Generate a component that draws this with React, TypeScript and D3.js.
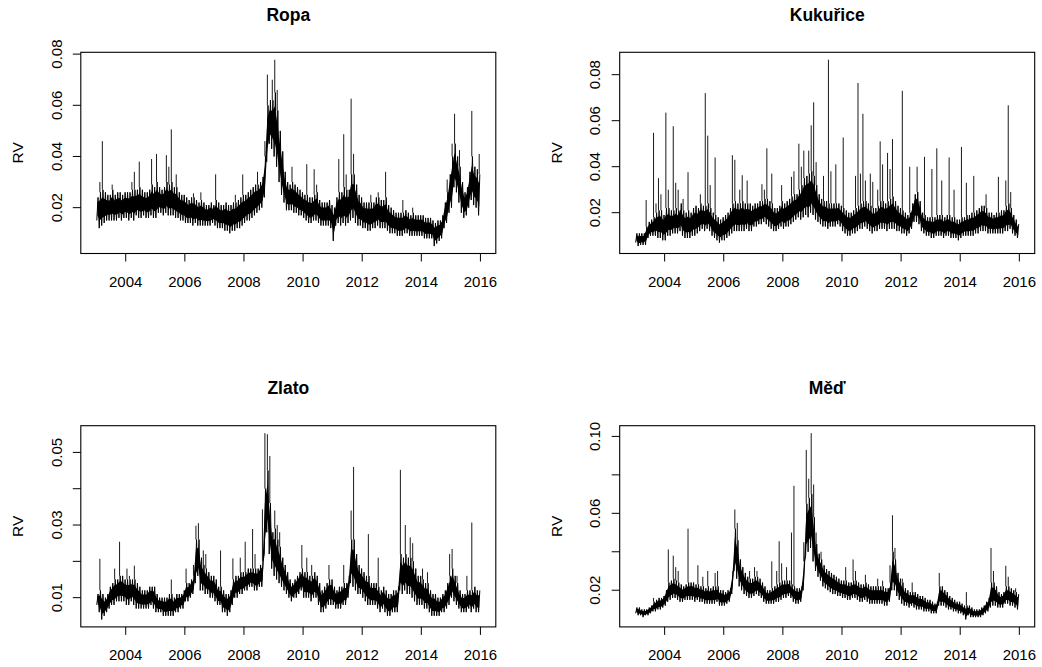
import React from "react";
import * as d3 from "d3";

// Realised volatility (RV), monthly from Jan 2003 to Dec 2015.
// low / high: lower and upper edge of the daily band in each month.
// spikes: isolated daily peaks above the band, as [month index, value].
const startYear = 2003;
const yearTicks = [2004, 2006, 2008, 2010, 2012, 2014, 2016];

const ropaLow = [
  0.015, 0.012, 0.013, 0.014, 0.015, 0.015, 0.015, 0.015, 0.015, 0.016, 0.015, 0.016,
  0.016, 0.015, 0.016, 0.015, 0.017, 0.016, 0.016, 0.017, 0.016, 0.016, 0.017, 0.016,
  0.016, 0.018, 0.018, 0.017, 0.018, 0.017, 0.017, 0.017, 0.016, 0.016, 0.015, 0.015,
  0.014, 0.014, 0.014, 0.013, 0.014, 0.013, 0.013, 0.013, 0.013, 0.013, 0.013, 0.014,
  0.013, 0.012, 0.012, 0.012, 0.011, 0.011, 0.010, 0.011, 0.011, 0.012, 0.012, 0.013,
  0.014, 0.015, 0.015, 0.016, 0.017, 0.018, 0.019, 0.020, 0.024, 0.038, 0.045, 0.043,
  0.040, 0.036, 0.030, 0.025, 0.022, 0.019, 0.019, 0.019, 0.018, 0.018, 0.017, 0.017,
  0.016, 0.015, 0.014, 0.014, 0.015, 0.015, 0.014, 0.013, 0.013, 0.013, 0.013, 0.012,
  0.007, 0.013, 0.014, 0.013, 0.014, 0.013, 0.014, 0.015, 0.016, 0.014, 0.013, 0.013,
  0.012, 0.012, 0.011, 0.011, 0.012, 0.012, 0.013, 0.012, 0.012, 0.012, 0.011, 0.010,
  0.010, 0.010, 0.009, 0.009, 0.009, 0.010, 0.010, 0.009, 0.009, 0.009, 0.009, 0.009,
  0.009, 0.008, 0.008, 0.008, 0.008, 0.005, 0.006, 0.007, 0.008, 0.012, 0.014, 0.018,
  0.020, 0.028, 0.026, 0.022, 0.018, 0.016, 0.017, 0.020, 0.023, 0.021, 0.020, 0.017,
];
const ropaHigh = [
  0.024, 0.026, 0.027, 0.026, 0.025, 0.025, 0.027, 0.025, 0.026, 0.026, 0.025, 0.026,
  0.026, 0.026, 0.027, 0.027, 0.027, 0.028, 0.027, 0.026, 0.026, 0.027, 0.029, 0.028,
  0.030, 0.028, 0.027, 0.028, 0.030, 0.029, 0.030, 0.028, 0.028, 0.026, 0.025, 0.025,
  0.024, 0.023, 0.024, 0.024, 0.023, 0.022, 0.023, 0.022, 0.021, 0.021, 0.022, 0.021,
  0.023, 0.022, 0.021, 0.021, 0.022, 0.021, 0.021, 0.022, 0.022, 0.023, 0.024, 0.025,
  0.025, 0.026, 0.027, 0.028, 0.029, 0.029, 0.030, 0.032, 0.040, 0.060, 0.062, 0.062,
  0.065, 0.058, 0.050, 0.042, 0.034, 0.030, 0.029, 0.030, 0.029, 0.028, 0.027, 0.026,
  0.025, 0.025, 0.024, 0.024, 0.025, 0.026, 0.023, 0.022, 0.022, 0.022, 0.023, 0.021,
  0.020, 0.024, 0.026, 0.026, 0.028, 0.027, 0.027, 0.033, 0.033, 0.029, 0.025, 0.024,
  0.022, 0.022, 0.022, 0.022, 0.022, 0.024, 0.024, 0.023, 0.023, 0.024, 0.021, 0.020,
  0.019, 0.018, 0.018, 0.018, 0.018, 0.019, 0.018, 0.017, 0.018, 0.017, 0.017, 0.017,
  0.017, 0.016, 0.016, 0.016, 0.015, 0.014, 0.015, 0.015, 0.017, 0.022, 0.026, 0.033,
  0.040, 0.045, 0.040, 0.036, 0.030, 0.026, 0.028, 0.034, 0.040, 0.036, 0.035, 0.033,
];
const ropaSpikes: [number, number][] = [
  [1, 0.03], [2, 0.046], [6, 0.029], [14, 0.03], [15, 0.034], [17, 0.038], [22, 0.039],
  [24, 0.041], [28, 0.0405], [29, 0.036], [30, 0.0506], [32, 0.033], [39, 0.0256], [42, 0.026],
  [48, 0.033], [56, 0.025], [59, 0.033], [65, 0.034], [68, 0.046], [69, 0.072], [71, 0.07],
  [72, 0.0778], [73, 0.066], [79, 0.036], [85, 0.037], [88, 0.035], [89, 0.029],
  [98, 0.039], [100, 0.0487], [101, 0.033], [103, 0.0626], [104, 0.041],
  [111, 0.025], [114, 0.026], [117, 0.034], [124, 0.023], [128, 0.02], [142, 0.031],
  [144, 0.045], [145, 0.0567], [147, 0.0425], [152, 0.0578], [155, 0.041],
];

const kukuriceLow = [
  0.007, 0.0055, 0.006, 0.006, 0.006, 0.009, 0.010, 0.010, 0.010, 0.009, 0.009, 0.008,
  0.008, 0.010, 0.010, 0.011, 0.011, 0.011, 0.012, 0.010, 0.009, 0.009, 0.009, 0.010,
  0.010, 0.011, 0.012, 0.013, 0.012, 0.013, 0.012, 0.010, 0.009, 0.008, 0.007, 0.008,
  0.008, 0.009, 0.010, 0.011, 0.012, 0.012, 0.012, 0.012, 0.012, 0.013, 0.012, 0.012,
  0.014, 0.014, 0.015, 0.015, 0.016, 0.015, 0.014, 0.013, 0.012, 0.012, 0.013, 0.014,
  0.013, 0.014, 0.014, 0.015, 0.016, 0.017, 0.018, 0.017, 0.018, 0.019, 0.018, 0.020,
  0.019, 0.017, 0.016, 0.015, 0.014, 0.014, 0.013, 0.014, 0.014, 0.014, 0.015, 0.014,
  0.012, 0.011, 0.010, 0.010, 0.011, 0.011, 0.012, 0.013, 0.013, 0.014, 0.013, 0.012,
  0.011, 0.012, 0.012, 0.013, 0.013, 0.013, 0.012, 0.013, 0.013, 0.013, 0.012, 0.012,
  0.011, 0.011, 0.010, 0.011, 0.013, 0.016, 0.016, 0.015, 0.012, 0.011, 0.010, 0.010,
  0.009, 0.009, 0.010, 0.010, 0.010, 0.009, 0.010, 0.010, 0.009, 0.009, 0.009, 0.008,
  0.009, 0.010, 0.010, 0.010, 0.010, 0.010, 0.011, 0.011, 0.012, 0.012, 0.012, 0.011,
  0.011, 0.011, 0.011, 0.011, 0.011, 0.011, 0.012, 0.012, 0.013, 0.011, 0.010, 0.009,
];
const kukuriceHigh = [
  0.011, 0.011, 0.011, 0.011, 0.014, 0.016, 0.017, 0.018, 0.020, 0.021, 0.021, 0.019,
  0.022, 0.022, 0.021, 0.021, 0.022, 0.021, 0.024, 0.021, 0.020, 0.021, 0.020, 0.022,
  0.023, 0.022, 0.024, 0.023, 0.023, 0.024, 0.022, 0.020, 0.019, 0.018, 0.017, 0.018,
  0.019, 0.020, 0.022, 0.024, 0.025, 0.024, 0.024, 0.025, 0.024, 0.024, 0.024, 0.023,
  0.024, 0.024, 0.025, 0.025, 0.026, 0.026, 0.025, 0.024, 0.022, 0.022, 0.023, 0.025,
  0.024, 0.025, 0.026, 0.027, 0.028, 0.028, 0.030, 0.032, 0.035, 0.036, 0.037, 0.038,
  0.036, 0.032, 0.028, 0.026, 0.025, 0.025, 0.024, 0.024, 0.024, 0.024, 0.024, 0.023,
  0.022, 0.021, 0.020, 0.020, 0.021, 0.022, 0.023, 0.024, 0.025, 0.025, 0.024, 0.023,
  0.022, 0.022, 0.023, 0.025, 0.025, 0.024, 0.025, 0.026, 0.027, 0.025, 0.023, 0.022,
  0.021, 0.020, 0.019, 0.020, 0.024, 0.028, 0.029, 0.025, 0.020, 0.019, 0.018, 0.018,
  0.018, 0.018, 0.019, 0.019, 0.019, 0.018, 0.019, 0.019, 0.018, 0.018, 0.017, 0.017,
  0.018, 0.018, 0.019, 0.019, 0.020, 0.020, 0.021, 0.022, 0.023, 0.023, 0.022, 0.020,
  0.020, 0.019, 0.020, 0.020, 0.021, 0.021, 0.023, 0.024, 0.022, 0.019, 0.017, 0.015,
];
const kukuriceSpikes: [number, number][] = [
  [4, 0.0255], [7, 0.0547], [8, 0.024], [9, 0.035], [10, 0.028],
  [12, 0.0635], [13, 0.03], [15, 0.0576], [16, 0.033], [17, 0.03], [19, 0.026], [21, 0.0376],
  [26, 0.028], [28, 0.072], [29, 0.0535], [30, 0.032], [32, 0.044],
  [39, 0.045], [40, 0.043], [42, 0.03], [43, 0.0363], [45, 0.034],
  [51, 0.0324], [52, 0.03], [53, 0.048], [55, 0.037], [59, 0.032],
  [63, 0.0356], [64, 0.038], [66, 0.05], [67, 0.04], [68, 0.047], [70, 0.047], [71, 0.058],
  [72, 0.068], [73, 0.042], [76, 0.036], [78, 0.0865], [79, 0.038], [81, 0.041],
  [84, 0.0527], [89, 0.036], [90, 0.0764], [91, 0.037], [92, 0.063], [93, 0.034], [95, 0.037],
  [96, 0.0334], [98, 0.03], [99, 0.051], [100, 0.041], [102, 0.046], [103, 0.039], [104, 0.052],
  [108, 0.073], [111, 0.04], [114, 0.04], [117, 0.0443],
  [120, 0.039], [122, 0.048], [124, 0.034], [127, 0.044], [129, 0.03],
  [132, 0.0486], [134, 0.033], [137, 0.036], [142, 0.028],
  [147, 0.0356], [150, 0.034], [151, 0.0667], [152, 0.029],
];

const zlatoLow = [
  0.008, 0.006, 0.004, 0.005, 0.006, 0.007, 0.008, 0.008, 0.009, 0.009, 0.009, 0.009,
  0.008, 0.008, 0.009, 0.008, 0.007, 0.007, 0.007, 0.007, 0.007, 0.007, 0.008, 0.007,
  0.006, 0.006, 0.006, 0.005, 0.005, 0.005, 0.005, 0.005, 0.006, 0.006, 0.007, 0.007,
  0.009, 0.009, 0.010, 0.011, 0.014, 0.016, 0.012, 0.012, 0.011, 0.011, 0.010, 0.010,
  0.009, 0.008, 0.008, 0.006, 0.006, 0.005, 0.006, 0.008, 0.010, 0.010, 0.011, 0.011,
  0.012, 0.012, 0.013, 0.013, 0.012, 0.012, 0.013, 0.013, 0.022, 0.028, 0.022, 0.018,
  0.016, 0.015, 0.014, 0.013, 0.012, 0.011, 0.010, 0.009, 0.010, 0.010, 0.011, 0.012,
  0.010, 0.010, 0.010, 0.009, 0.010, 0.010, 0.008, 0.006, 0.006, 0.007, 0.008, 0.008,
  0.008, 0.007, 0.007, 0.007, 0.008, 0.008, 0.010, 0.014, 0.013, 0.012, 0.011, 0.011,
  0.010, 0.009, 0.008, 0.008, 0.008, 0.008, 0.007, 0.006, 0.007, 0.006, 0.005, 0.005,
  0.006, 0.006, 0.006, 0.012, 0.011, 0.012, 0.011, 0.011, 0.010, 0.009, 0.008, 0.008,
  0.008, 0.007, 0.007, 0.006, 0.005, 0.005, 0.005, 0.005, 0.006, 0.006, 0.007, 0.008,
  0.010, 0.009, 0.008, 0.007, 0.006, 0.006, 0.006, 0.007, 0.006, 0.007, 0.006, 0.006,
];
const zlatoHigh = [
  0.011, 0.012, 0.011, 0.010, 0.011, 0.013, 0.014, 0.015, 0.015, 0.016, 0.016, 0.015,
  0.015, 0.015, 0.015, 0.015, 0.014, 0.013, 0.012, 0.012, 0.012, 0.013, 0.013, 0.013,
  0.011, 0.010, 0.010, 0.010, 0.010, 0.011, 0.011, 0.010, 0.011, 0.011, 0.011, 0.012,
  0.014, 0.014, 0.015, 0.016, 0.026, 0.026, 0.021, 0.019, 0.018, 0.017, 0.016, 0.016,
  0.015, 0.013, 0.013, 0.012, 0.011, 0.011, 0.012, 0.015, 0.016, 0.016, 0.017, 0.017,
  0.017, 0.018, 0.018, 0.018, 0.018, 0.018, 0.019, 0.020, 0.040, 0.045, 0.036, 0.028,
  0.029, 0.026, 0.024, 0.021, 0.019, 0.017, 0.015, 0.014, 0.015, 0.016, 0.017, 0.018,
  0.017, 0.017, 0.016, 0.016, 0.017, 0.016, 0.014, 0.012, 0.013, 0.014, 0.015, 0.015,
  0.013, 0.012, 0.013, 0.013, 0.014, 0.014, 0.016, 0.026, 0.026, 0.022, 0.019, 0.018,
  0.017, 0.016, 0.016, 0.014, 0.014, 0.014, 0.013, 0.012, 0.013, 0.012, 0.011, 0.011,
  0.012, 0.012, 0.013, 0.022, 0.021, 0.022, 0.021, 0.021, 0.020, 0.018, 0.016, 0.016,
  0.015, 0.014, 0.014, 0.012, 0.011, 0.011, 0.010, 0.010, 0.011, 0.012, 0.014, 0.016,
  0.018, 0.016, 0.014, 0.012, 0.011, 0.011, 0.012, 0.012, 0.012, 0.013, 0.012, 0.012,
];
const zlatoSpikes: [number, number][] = [
  [1, 0.0207], [7, 0.018], [9, 0.0254], [12, 0.018], [13, 0.016], [15, 0.0188], [30, 0.015],
  [36, 0.018], [39, 0.019], [40, 0.0298], [41, 0.0305], [43, 0.023], [44, 0.022],
  [50, 0.023], [55, 0.0208], [58, 0.021],
  [60, 0.0254], [63, 0.0289], [64, 0.022], [67, 0.0343], [68, 0.0553], [69, 0.055], [70, 0.049],
  [72, 0.034], [73, 0.03], [74, 0.028], [83, 0.0245], [85, 0.021], [87, 0.019], [94, 0.019],
  [100, 0.019], [103, 0.034], [104, 0.046], [110, 0.0275], [114, 0.021],
  [123, 0.0452], [125, 0.03], [127, 0.0266], [128, 0.025],
  [132, 0.018], [134, 0.017], [143, 0.022], [144, 0.0234], [146, 0.016], [150, 0.016], [152, 0.0307],
];

const medLow = [
  0.008, 0.007, 0.007, 0.006, 0.007, 0.007, 0.008, 0.009, 0.009, 0.010, 0.010, 0.011,
  0.012, 0.014, 0.015, 0.016, 0.016, 0.015, 0.014, 0.014, 0.015, 0.015, 0.015, 0.015,
  0.014, 0.015, 0.014, 0.014, 0.013, 0.013, 0.013, 0.013, 0.013, 0.014, 0.012, 0.012,
  0.012, 0.013, 0.014, 0.018, 0.030, 0.026, 0.022, 0.020, 0.018, 0.017, 0.016, 0.016,
  0.017, 0.018, 0.017, 0.016, 0.014, 0.013, 0.013, 0.013, 0.013, 0.014, 0.014, 0.015,
  0.016, 0.016, 0.017, 0.016, 0.014, 0.013, 0.013, 0.014, 0.020, 0.038, 0.040, 0.042,
  0.035, 0.030, 0.027, 0.025, 0.022, 0.021, 0.020, 0.019, 0.018, 0.018, 0.017, 0.017,
  0.016, 0.016, 0.015, 0.015, 0.016, 0.016, 0.015, 0.014, 0.014, 0.015, 0.014, 0.013,
  0.013, 0.013, 0.013, 0.013, 0.013, 0.012, 0.012, 0.014, 0.020, 0.020, 0.017, 0.015,
  0.013, 0.012, 0.012, 0.011, 0.012, 0.011, 0.010, 0.010, 0.010, 0.009, 0.009, 0.009,
  0.008, 0.008, 0.008, 0.012, 0.012, 0.012, 0.011, 0.010, 0.010, 0.009, 0.009, 0.008,
  0.008, 0.007, 0.0048, 0.007, 0.006, 0.006, 0.006, 0.006, 0.006, 0.007, 0.008, 0.009,
  0.011, 0.012, 0.012, 0.011, 0.011, 0.011, 0.013, 0.013, 0.012, 0.012, 0.011, 0.010,
];
const medHigh = [
  0.011, 0.011, 0.010, 0.010, 0.010, 0.011, 0.012, 0.014, 0.015, 0.016, 0.016, 0.017,
  0.020, 0.024, 0.025, 0.026, 0.025, 0.024, 0.023, 0.022, 0.023, 0.024, 0.024, 0.024,
  0.023, 0.023, 0.022, 0.022, 0.021, 0.022, 0.021, 0.022, 0.022, 0.022, 0.020, 0.020,
  0.019, 0.020, 0.021, 0.030, 0.052, 0.046, 0.036, 0.032, 0.029, 0.027, 0.026, 0.026,
  0.027, 0.027, 0.026, 0.024, 0.022, 0.020, 0.020, 0.021, 0.022, 0.023, 0.024, 0.025,
  0.025, 0.025, 0.025, 0.023, 0.022, 0.021, 0.021, 0.022, 0.035, 0.065, 0.068, 0.070,
  0.058, 0.044, 0.039, 0.036, 0.033, 0.031, 0.030, 0.029, 0.028, 0.027, 0.026, 0.025,
  0.025, 0.025, 0.024, 0.024, 0.025, 0.025, 0.024, 0.023, 0.023, 0.024, 0.023, 0.022,
  0.022, 0.022, 0.022, 0.022, 0.022, 0.021, 0.021, 0.024, 0.040, 0.036, 0.029, 0.026,
  0.024, 0.021, 0.020, 0.019, 0.019, 0.019, 0.018, 0.017, 0.017, 0.016, 0.015, 0.015,
  0.014, 0.013, 0.014, 0.022, 0.022, 0.020, 0.019, 0.017, 0.016, 0.015, 0.014, 0.014,
  0.013, 0.012, 0.012, 0.012, 0.011, 0.010, 0.010, 0.010, 0.011, 0.012, 0.014, 0.016,
  0.024, 0.024, 0.022, 0.019, 0.018, 0.019, 0.022, 0.022, 0.021, 0.020, 0.019, 0.018,
];
const medSpikes: [number, number][] = [
  [7, 0.016], [13, 0.0412], [15, 0.038], [16, 0.032], [17, 0.03], [21, 0.052],
  [25, 0.033], [27, 0.027], [29, 0.03], [32, 0.029], [33, 0.03],
  [40, 0.062], [41, 0.055], [46, 0.03],
  [48, 0.032], [49, 0.03], [55, 0.035], [57, 0.03], [58, 0.0455], [59, 0.034],
  [61, 0.032], [63, 0.05], [64, 0.0743], [68, 0.045], [69, 0.093], [70, 0.078], [71, 0.1017],
  [72, 0.075], [73, 0.05], [75, 0.04], [85, 0.032], [88, 0.036], [89, 0.03], [93, 0.028],
  [98, 0.026], [100, 0.025], [103, 0.033], [104, 0.059], [105, 0.042],
  [108, 0.026], [112, 0.024], [123, 0.029], [134, 0.019],
  [144, 0.042], [145, 0.03], [150, 0.0327], [151, 0.027], [154, 0.021],
];

type Panel = {
  title: string;
  low: number[];
  high: number[];
  spikes: [number, number][];
  yTicks: number[];
  yLabels: number[];
  col: number;
  row: number;
};

const panels: Panel[] = [
  { title: "Ropa", low: ropaLow, high: ropaHigh, spikes: ropaSpikes, yTicks: [0.02, 0.04, 0.06, 0.08], yLabels: [0.02, 0.04, 0.06, 0.08], col: 0, row: 0 },
  { title: "Kukuřice", low: kukuriceLow, high: kukuriceHigh, spikes: kukuriceSpikes, yTicks: [0.02, 0.04, 0.06, 0.08], yLabels: [0.02, 0.04, 0.06, 0.08], col: 1, row: 0 },
  { title: "Zlato", low: zlatoLow, high: zlatoHigh, spikes: zlatoSpikes, yTicks: [0.01, 0.02, 0.03, 0.04, 0.05], yLabels: [0.01, 0.03, 0.05], col: 0, row: 1 },
  { title: "Měď", low: medLow, high: medHigh, spikes: medSpikes, yTicks: [0.02, 0.04, 0.06, 0.08, 0.1], yLabels: [0.02, 0.06, 0.1], col: 1, row: 1 },
];

const W = 1042;
const H = 667;
const colX = [80.8, 619.7];
const boxW = 415;
const rowY = [52.3, 425.7];
const boxH = 201.2;
const font = "'Liberation Sans', Arial, Helvetica, sans-serif";
const fmt = d3.format(".2f");

function PanelPlot({ p }: { p: Panel }) {
  const x0 = colX[p.col];
  const y0 = rowY[p.row];
  const n = p.low.length;

  // R-style axis extent: data range widened by 4% on each side
  const tStart = startYear;
  const tEnd = startYear + n / 12;
  const tPad = (tEnd - tStart) * 0.04;
  const x = d3.scaleLinear().domain([tStart - tPad, tEnd + tPad]).range([x0, x0 + boxW]);

  const all = p.low.concat(p.high, p.spikes.map((s) => s[1]));
  const [vMin, vMax] = d3.extent(all) as [number, number];
  const vPad = (vMax - vMin) * 0.04;
  const y = d3.scaleLinear().domain([vMin - vPad, vMax + vPad]).range([y0 + boxH, y0]);

  const mid = (i: number) => startYear + (i + 0.5) / 12;
  const idx = d3.range(n);

  // Dense core of the daily trace (inner part of each month's range)
  const core = d3
    .area<number>()
    .x((i) => x(mid(i)))
    .y0((i) => y(p.low[i] + 0.22 * (p.high[i] - p.low[i])))
    .y1((i) => y(p.high[i] - 0.22 * (p.high[i] - p.low[i])));

  // Trace swinging out to each month's low and high, giving the ragged edges
  const pts: [number, number][] = [];
  for (let i = 0; i < n; i++) {
    const t = startYear + i / 12;
    pts.push([t + 0.25 / 12, p.low[i]]);
    pts.push([t + 0.75 / 12, p.high[i]]);
  }
  const trace = d3
    .line<[number, number]>()
    .x((d) => x(d[0]))
    .y((d) => y(d[1]));

  const cx = x0 + boxW / 2;
  const cy = y0 + boxH / 2;
  const yb = y0 + boxH;

  return (
    <g>
      <text x={cx} y={y0 - 31.6} textAnchor="middle" fontFamily={font} fontWeight="bold" fontSize={17.5} fill="#000">
        {p.title}
      </text>
      <path d={core(idx) ?? ""} fill="#000" stroke="none" />
      <path d={trace(pts) ?? ""} fill="none" stroke="#000" strokeWidth={1} />
      {p.spikes.map(([i, v]) => (
        <line
          key={`s${i}-${v}`}
          x1={x(mid(i))}
          x2={x(mid(i))}
          y1={y(p.high[i])}
          y2={y(v)}
          stroke="#1a1a1a"
          strokeWidth={1}
        />
      ))}
      <rect x={x0} y={y0} width={boxW} height={boxH} fill="none" stroke="#000" strokeWidth={1.1} />
      {yearTicks.map((yr) => (
        <g key={yr}>
          <line x1={x(yr)} x2={x(yr)} y1={yb} y2={yb + 8} stroke="#000" strokeWidth={1} />
          <text x={x(yr)} y={yb + 33.5} textAnchor="middle" fontFamily={font} fontSize={15} fill="#000">
            {yr}
          </text>
        </g>
      ))}
      {p.yTicks.map((v) => (
        <line key={v} x1={x0} x2={x0 - 8} y1={y(v)} y2={y(v)} stroke="#000" strokeWidth={1} />
      ))}
      {p.yLabels.map((v) => (
        <text
          key={v}
          transform={`translate(${x0 - 19.3},${y(v)}) rotate(-90)`}
          textAnchor="middle"
          fontFamily={font}
          fontSize={15}
          fill="#000"
        >
          {fmt(v)}
        </text>
      ))}
      <text
        transform={`translate(${x0 - 57.5},${cy}) rotate(-90)`}
        textAnchor="middle"
        fontFamily={font}
        fontSize={15.5}
        fill="#000"
      >
        RV
      </text>
    </g>
  );
}

export default function App() {
  return (
    <svg
      width={W}
      height={H}
      viewBox={`0 0 ${W} ${H}`}
      style={{ position: "absolute", left: 0, top: 0, background: "#fff" }}
    >
      <rect x={0} y={0} width={W} height={H} fill="#fff" />
      {panels.map((p) => (
        <PanelPlot key={p.title} p={p} />
      ))}
    </svg>
  );
}
